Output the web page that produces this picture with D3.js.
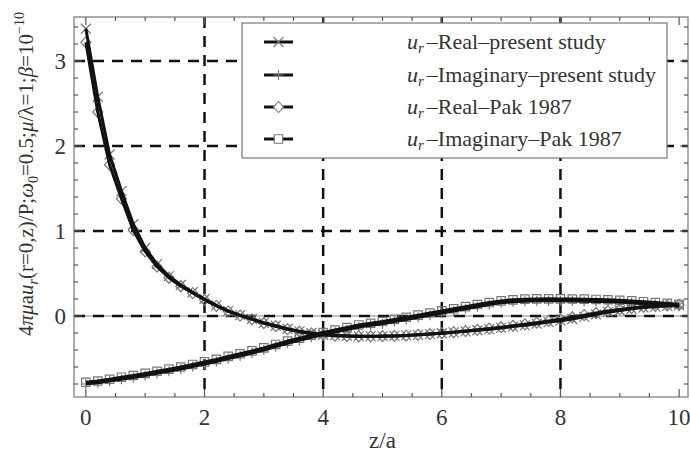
<!DOCTYPE html>
<html>
<head>
<meta charset="utf-8">
<script src="https://cdn.jsdelivr.net/npm/d3@7/dist/d3.min.js"></script>
<style>
  html, body { margin: 0; padding: 0; background: #fff; }
  svg { display: block; }
  text { font-family: "Liberation Serif", "Times New Roman", serif; fill: #333; }
</style>
</head>
<body>
<svg id="chart" width="690" height="456"></svg>
<script>
// Axial position z/a
const zValues = [0, 0.2, 0.4, 0.6, 0.8, 1.0, 1.2, 1.4, 1.6, 1.8,
  2.0, 2.2, 2.4, 2.6, 2.8, 3.0, 3.2, 3.4, 3.6, 3.8,
  4.0, 4.2, 4.4, 4.6, 4.8, 5.0, 5.2, 5.4, 5.6, 5.8,
  6.0, 6.2, 6.4, 6.6, 6.8, 7.0, 7.2, 7.4, 7.6, 7.8,
  8.0, 8.2, 8.4, 8.6, 8.8, 9.0, 9.2, 9.4, 9.6, 9.8, 10.0];

// u_r, real part - present study
const realPresent = [3.38, 2.58, 1.90, 1.47, 1.08, 0.80, 0.61, 0.47, 0.365, 0.28,
  0.20, 0.125, 0.06, 0.01, -0.035, -0.08, -0.115, -0.15, -0.18, -0.20,
  -0.22, -0.228, -0.233, -0.236, -0.237, -0.236, -0.234, -0.228, -0.222, -0.213,
  -0.203, -0.192, -0.18, -0.168, -0.155, -0.14, -0.125, -0.11, -0.09, -0.072,
  -0.055, -0.035, -0.01, 0.02, 0.045, 0.065, 0.085, 0.10, 0.11, 0.12, 0.125];

// u_r, imaginary part - present study
const imagPresent = [-0.80, -0.785, -0.765, -0.745, -0.725, -0.70, -0.675, -0.65, -0.625, -0.595,
  -0.565, -0.535, -0.50, -0.47, -0.435, -0.40, -0.36, -0.32, -0.285, -0.25,
  -0.22, -0.19, -0.16, -0.13, -0.11, -0.09, -0.065, -0.04, -0.015, 0.01,
  0.035, 0.06, 0.085, 0.11, 0.135, 0.155, 0.168, 0.175, 0.178, 0.179,
  0.178, 0.177, 0.175, 0.172, 0.168, 0.162, 0.155, 0.145, 0.135, 0.125, 0.115];

// u_r, real part - Pak 1987
const realPak = [3.22, 2.40, 1.78, 1.38, 1.01, 0.76, 0.58, 0.45, 0.35, 0.27,
  0.19, 0.12, 0.055, 0.005, -0.04, -0.085, -0.12, -0.155, -0.185, -0.205,
  -0.222, -0.232, -0.238, -0.24, -0.24, -0.238, -0.235, -0.23, -0.222, -0.213,
  -0.203, -0.19, -0.177, -0.163, -0.148, -0.132, -0.115, -0.098, -0.078, -0.058,
  -0.038, -0.015, 0.01, 0.035, 0.058, 0.078, 0.095, 0.108, 0.118, 0.125, 0.13];

// u_r, imaginary part - Pak 1987
const imagPak = [-0.78, -0.765, -0.745, -0.72, -0.70, -0.675, -0.65, -0.625, -0.60, -0.57,
  -0.54, -0.51, -0.475, -0.445, -0.41, -0.375, -0.335, -0.295, -0.26, -0.225,
  -0.195, -0.165, -0.135, -0.105, -0.085, -0.065, -0.04, -0.015, 0.01, 0.035,
  0.06, 0.085, 0.11, 0.135, 0.158, 0.178, 0.19, 0.198, 0.201, 0.202,
  0.201, 0.2, 0.198, 0.195, 0.191, 0.185, 0.178, 0.168, 0.158, 0.148, 0.138];

const xTickLabels = [0, 2, 4, 6, 8, 10];
const yTickLabels = [0, 1, 2, 3];

const seriesNames = [
  "Real\u2013present study",
  "Imaginary\u2013present study",
  "Real\u2013Pak 1987",
  "Imaginary\u2013Pak 1987"
];

const svg = d3.select("#chart");
const plot = { left: 74, right: 688, top: 17, bottom: 397 };

const x = d3.scaleLinear().domain([-0.2, 10.15]).range([plot.left, plot.right]);
const y = d3.scaleLinear().domain([-0.953, 3.518]).range([plot.bottom, plot.top]);

// dashed grid
const grid = svg.append("g");
grid.selectAll("line.gx").data(xTickLabels.filter(d => d > 0 && d < 10)).join("line")
  .attr("x1", d => x(d)).attr("x2", d => x(d))
  .attr("y1", plot.top).attr("y2", plot.bottom)
  .attr("stroke", "#111").attr("stroke-width", 2.5).attr("stroke-dasharray", "11,8");
// zero line (solid, thin) under the dashed grid line
grid.append("line")
  .attr("x1", plot.left).attr("x2", plot.right)
  .attr("y1", y(0)).attr("y2", y(0))
  .attr("stroke", "#888").attr("stroke-width", 1);
grid.selectAll("line.gy").data(yTickLabels).join("line")
  .attr("x1", plot.left).attr("x2", plot.right)
  .attr("y1", d => y(d)).attr("y2", d => y(d))
  .attr("stroke", "#111").attr("stroke-width", 2.5).attr("stroke-dasharray", "11,8");

// frame with inward ticks on all four sides
const frame = svg.append("g");
frame.append("rect")
  .attr("x", plot.left).attr("y", plot.top)
  .attr("width", plot.right - plot.left).attr("height", plot.bottom - plot.top)
  .attr("fill", "none").attr("stroke", "#777").attr("stroke-width", 1.2);

const xMinor = d3.range(0.5, 10.01, 0.5).filter(v => Math.abs(v % 2) > 1e-6);
const yMinor = d3.range(-0.8, 3.41, 0.2).filter(v => Math.abs(v - Math.round(v)) > 1e-6);

function xTicks(vals, len) {
  frame.selectAll(null).data(vals).join("line")
    .attr("x1", d => x(d)).attr("x2", d => x(d))
    .attr("y1", plot.bottom).attr("y2", plot.bottom - len)
    .attr("stroke", "#555").attr("stroke-width", 1.2);
  frame.selectAll(null).data(vals).join("line")
    .attr("x1", d => x(d)).attr("x2", d => x(d))
    .attr("y1", plot.top).attr("y2", plot.top + len)
    .attr("stroke", "#555").attr("stroke-width", 1.2);
}
function yTicks(vals, len) {
  frame.selectAll(null).data(vals).join("line")
    .attr("x1", plot.left).attr("x2", plot.left + len)
    .attr("y1", d => y(d)).attr("y2", d => y(d))
    .attr("stroke", "#555").attr("stroke-width", 1.2);
  frame.selectAll(null).data(vals).join("line")
    .attr("x1", plot.right).attr("x2", plot.right - len)
    .attr("y1", d => y(d)).attr("y2", d => y(d))
    .attr("stroke", "#555").attr("stroke-width", 1.2);
}
xTicks(xTickLabels, 8);
xTicks(xMinor, 4);
yTicks(yTickLabels, 8);
yTicks(yMinor, 4);

// tick labels
svg.append("g").selectAll("text").data(xTickLabels).join("text")
  .attr("x", d => x(d)).attr("y", 425)
  .attr("text-anchor", "middle").attr("font-size", 23)
  .text(d => d);
svg.append("g").selectAll("text").data(yTickLabels).join("text")
  .attr("x", 66).attr("y", d => y(d) + 7.5)
  .attr("text-anchor", "end").attr("font-size", 23)
  .text(d => d);

// axis titles
svg.append("text").attr("x", x(5)).attr("y", 448)
  .attr("text-anchor", "middle").attr("font-size", 23).text("z/a");

const yTitle = svg.append("text")
  .attr("transform", "translate(33,174) rotate(-90)")
  .attr("text-anchor", "middle").attr("font-size", 21);
const yParts = [
  { t: "4" }, { t: "\u03c0\u03bc", i: true }, { t: "a" }, { t: "u", i: true },
  { t: "r", i: true, sub: true }, { t: "(r=0,z)/P;" }, { t: "\u03c9", i: true },
  { t: "0", sub: true }, { t: "=0.5;" }, { t: "\u03bc", i: true }, { t: "/\u03bb=1;" },
  { t: "\u03b2", i: true }, { t: "=10" }, { t: "\u221210", sup: true }
];
let shift = 0;
yParts.forEach(p => {
  const ts = yTitle.append("tspan").text(p.t);
  if (p.i) ts.attr("font-style", "italic");
  let target = p.sub ? 5 : p.sup ? -9 : 0;
  if (p.sub || p.sup) ts.attr("font-size", 14);
  if (target !== shift) { ts.attr("dy", target - shift); shift = target; }
});

// curves
const line = d3.line().x(d => x(d[0])).y(d => y(d[1]));
const allSeries = [realPresent, imagPresent, realPak, imagPak];
const markerKinds = ["cross", "plus", "diamond", "square"];

function markerPath(kind, cx, cy) {
  const s = 5;
  switch (kind) {
    case "cross": return `M${cx - s},${cy - s}L${cx + s},${cy + s}M${cx - s},${cy + s}L${cx + s},${cy - s}`;
    case "plus": return `M${cx - s},${cy}L${cx + s},${cy}M${cx},${cy - s}L${cx},${cy + s}`;
    case "diamond": return `M${cx},${cy - 5.5}L${cx + 5},${cy}L${cx},${cy + 5.5}L${cx - 5},${cy}Z`;
    case "square": return `M${cx - 4.2},${cy - 4.2}h8.4v8.4h-8.4Z`;
  }
}

const marks = svg.append("g");
allSeries.forEach((vals, i) => {
  marks.append("g").selectAll("path").data(zValues.map((z, k) => [z, vals[k]])).join("path")
    .attr("d", d => markerPath(markerKinds[i], x(d[0]), y(d[1])))
    .attr("fill", "none").attr("stroke", "#777").attr("stroke-width", 1.2);
});
const lines = svg.append("g");
allSeries.forEach((vals, i) => {
  lines.append("path")
    .datum(zValues.map((z, k) => [z, vals[k]]))
    .attr("d", line)
    .attr("fill", "none").attr("stroke", "#111")
    .attr("stroke-width", 3).attr("stroke-linejoin", "round");
});

// legend
const legend = svg.append("g");
legend.append("rect").attr("x", 242).attr("y", 23).attr("width", 425).attr("height", 135)
  .attr("fill", "#fff").attr("stroke", "#777").attr("stroke-width", 1.2);
const legendY = [42, 75, 107, 139];
seriesNames.forEach((name, i) => {
  const ly = legendY[i];
  legend.append("line").attr("x1", 264).attr("x2", 293).attr("y1", ly).attr("y2", ly)
    .attr("stroke", "#111").attr("stroke-width", 3);
  legend.append("path").attr("d", markerPath(markerKinds[i], 278.5, ly))
    .attr("fill", i > 1 ? "#fff" : "none").attr("stroke", "#777").attr("stroke-width", 1.1);
  const t = legend.append("text").attr("x", 407).attr("y", ly + 7).attr("font-size", 22);
  t.append("tspan").attr("font-style", "italic").text("u");
  t.append("tspan").attr("font-style", "italic").attr("font-size", 15).attr("dy", 4).text("r");
  t.append("tspan").attr("dy", -4).attr("dx", 3).text("\u2013" + name);
});
</script>
</body>
</html>
